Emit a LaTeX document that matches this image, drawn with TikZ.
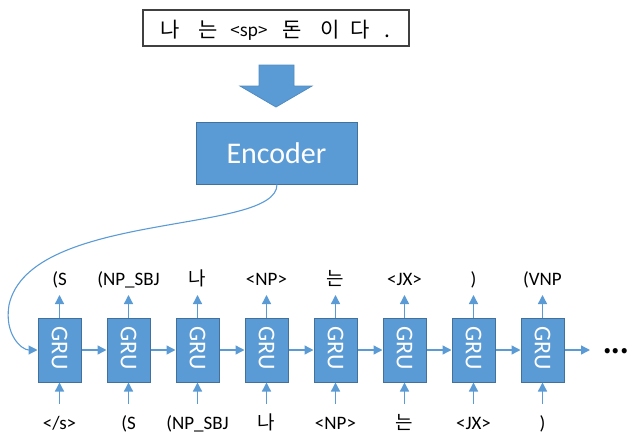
\documentclass[tikz,border=0pt]{standalone}
\usepackage{fontspec}
\setmainfont{Carlito}
\newfontfamily\kr{Noto Sans CJK KR}
\usetikzlibrary{arrows.meta}
\definecolor{gblue}{HTML}{5B9BD5}
\definecolor{gedge}{HTML}{41719C}
\definecolor{tbord}{HTML}{404040}
\tikzset{
  grubox/.style={draw=gedge, line width=1pt, fill=gblue, minimum width=43pt, minimum height=64pt, inner sep=0pt},
  grutext/.style={text=white, font=\fontsize{24}{24}\selectfont, rotate=-90, inner sep=0pt},
  lbl/.style={font=\fontsize{19}{19}\selectfont, inner sep=0pt, anchor=base},
  topw/.style={font=\kr\fontsize{21}{21}\selectfont, inner sep=0pt, anchor=base},
  conn/.style={draw=gblue, line width=1.4pt, -{Triangle[length=9pt,width=9pt]}},
}
\begin{document}
\begin{tikzpicture}[x=1pt,y=-1pt]
\useasboundingbox (0,0) rectangle (630,437);
% top sentence box
\node[draw=tbord, line width=1.3pt, minimum width=266pt, minimum height=36pt, inner sep=0pt] (sent) at (276,28) {};
\node[topw] (w1) at (170,37) {나};
\node[topw] (w2) at (208,37) {는};
\node[topw, font=\kr\fontsize{17}{17}\selectfont] (w3) at (249,36) {<sp>};
\node[topw] (w4) at (292,37) {돈};
\node[topw] (w5) at (330,37) {이};
\node[topw] (w6) at (360,37) {다};
\node[topw] (w7) at (387,37) {.};
% block arrow
\filldraw[fill=gblue, draw=gblue!90!black, line width=0.8pt]
  (259,65) -- (294,65) -- (294,86) -- (312,86) -- (276,107) -- (240,86) -- (259,86) -- cycle;
% encoder
\node[draw=gedge, line width=1pt, fill=gblue, minimum width=161pt, minimum height=62pt, inner sep=0pt,
      text=white, font=\fontsize{30}{30}\selectfont] (enc) at (276.5,153) {Encoder};
% GRU cells
\foreach \i/\x in {1/59.5,2/128.5,3/197.5,4/266.5,5/335.5,6/404.5,7/473.5,8/542.5}{
  \node[grubox] (g\i) at (\x,350) {};
  \node[grutext] at (\x,348) {GRU};
  \coordinate (t\i) at (\x,295);
  \coordinate (b\i) at (\x,404);
  \draw[conn] (g\i.north) -- (t\i);
  \draw[conn] (b\i) -- (g\i.south);
}
\foreach \i/\j in {1/2,2/3,3/4,4/5,5/6,6/7,7/8}{
  \draw[conn] (g\i.east) -- (g\j.west);
}
\coordinate (endc) at (590,350);
\draw[conn] (g8.east) -- (endc);
\node[inner sep=0pt, font=\kr\bfseries\fontsize{24}{24}\selectfont, anchor=base west] (dots) at (603,353) {...};
% top labels
\node[lbl] (o1) at (59.5,285) {(S};
\node[lbl] (o2) at (128.5,285) {(NP\_SBJ};
\node[lbl, font=\kr\fontsize{19}{19}\selectfont] (o3) at (197.5,285) {나};
\node[lbl] (o4) at (266.5,285) {<NP>};
\node[lbl, font=\kr\fontsize{19}{19}\selectfont] (o5) at (335.5,285) {는};
\node[lbl] (o6) at (404.5,285) {<JX>};
\node[lbl] (o7) at (473.5,285) {)};
\node[lbl] (o8) at (542.5,285) {(VNP};
% bottom labels
\node[lbl] (i1) at (59.5,429) {</s>};
\node[lbl] (i2) at (128.5,429) {(S};
\node[lbl] (i3) at (197.5,429) {(NP\_SBJ};
\node[lbl, font=\kr\fontsize{19}{19}\selectfont] (i4) at (266.5,429) {나};
\node[lbl] (i5) at (335.5,429) {<NP>};
\node[lbl, font=\kr\fontsize{19}{19}\selectfont] (i6) at (404.5,429) {는};
\node[lbl] (i7) at (473.5,429) {<JX>};
\node[lbl] (i8) at (542.5,429) {)};
% encoder to first GRU
\draw[conn, line width=1.1pt] (enc.south -| 277,184) .. controls (277,235) and (30,210) .. (9,305)
   .. controls (4,335) and (22,350) .. (g1.west);
\end{tikzpicture}
\end{document}
